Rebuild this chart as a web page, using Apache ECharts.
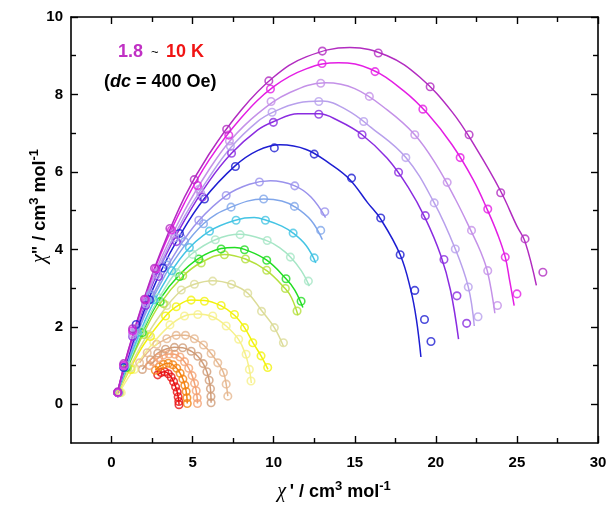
<!DOCTYPE html>
<html><head><meta charset="utf-8">
<script src="https://cdn.jsdelivr.net/npm/echarts@6/dist/echarts.min.js"></script>
<style>html,body{margin:0;padding:0;background:#fff}#c{width:609px;height:511px}</style>
</head><body><div id="c"></div>
<script>
// ---- axis ticks ----
const xTicks = [0, 5, 10, 15, 20, 25, 30];
const xMinorTicks = [2.5, 7.5, 12.5, 17.5, 22.5, 27.5];
const yTicks = [0, 2, 4, 6, 8, 10];
const yMinorTicks = [1, 3, 5, 7, 9];

// ---- series colours (outermost -> innermost) ----
const seriesColors = ['#b22cc0','#e41ee4','#c491e8','#b8a0ec','#8a2ce0','#1e1ed2','#9a92ec','#80a6ea','#44c4e4','#a6e6c6','#22dd22','#b4e03c','#dcdc98','#f2f20c','#f6f08a','#e6b890','#d09c78','#f4a274','#f48210','#e81010'];

// ---- measured points [chi', chi''] ----
const ptsA = [[0.38,0.32],[0.75,1.05],[1.3,1.95],[2.03,2.71],[2.65,3.51],[3.6,4.54],[5.1,5.8],[7.1,7.1],[9.7,8.35],[13.0,9.12],[16.45,9.07],[19.65,8.2],[22.05,6.96],[24.0,5.46],[25.5,4.27],[26.6,3.41]];
const ptsB = [[0.38,0.3],[0.75,1.0],[1.3,1.9],[2.1,2.7],[2.75,3.5],[3.7,4.5],[5.3,5.65],[7.23,6.95],[9.8,8.14],[12.98,8.8],[16.25,8.59],[19.2,7.62],[21.5,6.37],[23.2,5.04],[24.28,3.8],[25.0,2.85]];
const ptsC = [[0.38,0.3],[0.75,1.0],[1.3,1.85],[2.1,2.65],[2.8,3.4],[3.8,4.4],[5.4,5.55],[7.27,6.8],[9.84,7.82],[12.9,8.29],[15.9,7.95],[18.7,6.96],[20.7,5.73],[22.2,4.49],[23.2,3.45],[23.8,2.55]];
const ptsD = [[0.38,0.3],[0.75,1.0],[1.3,1.8],[2.1,2.6],[2.8,3.35],[3.9,4.3],[5.5,5.45],[7.33,6.66],[9.9,7.54],[12.78,7.82],[15.55,7.3],[18.15,6.37],[19.9,5.2],[21.2,4.01],[22.0,3.03],[22.6,2.26]];
const ptsE = [[0.38,0.3],[0.75,0.98],[1.3,1.75],[2.1,2.55],[2.9,3.3],[4.0,4.2],[5.6,5.35],[7.4,6.48],[9.98,7.28],[12.78,7.49],[15.45,6.96],[17.7,5.99],[19.35,4.87],[20.5,3.74],[21.3,2.8],[21.9,2.09]];
const ptsF = [[0.38,0.3],[0.75,0.95],[1.52,2.06],[2.34,2.7],[3.16,3.52],[4.19,4.41],[5.73,5.3],[7.64,6.14],[10.04,6.62],[12.5,6.46],[14.8,5.84],[16.6,4.81],[17.8,3.86],[18.7,2.94],[19.3,2.19],[19.7,1.62]];
const ptsG = [[0.4,0.3],[0.8,1.0],[1.5,1.95],[2.4,2.85],[3.4,3.7],[4.3,4.3],[5.38,4.75],[7.07,5.39],[9.12,5.74],[11.3,5.64],[13.15,4.97]];
const ptsH = [[0.4,0.3],[0.8,1.0],[1.5,1.9],[2.4,2.8],[3.4,3.6],[4.5,4.2],[5.67,4.66],[7.37,5.09],[9.38,5.3],[11.28,5.11],[12.9,4.49]];
const ptsI = [[0.4,0.3],[0.8,0.95],[1.6,1.85],[2.6,2.7],[3.7,3.45],[4.8,4.05],[6.04,4.47],[7.68,4.75],[9.49,4.75],[11.2,4.42],[12.5,3.78]];
const ptsJ = [[0.4,0.3],[0.9,1.0],[1.8,1.9],[2.9,2.75],[4.0,3.4],[5.0,3.87],[6.4,4.25],[7.93,4.38],[9.6,4.23],[11.03,3.8],[12.14,3.18]];
const ptsK = [[0.4,0.3],[0.9,0.95],[1.9,1.85],[3.0,2.65],[4.2,3.3],[5.38,3.75],[6.76,4.01],[8.2,3.99],[9.57,3.72],[10.76,3.24],[11.69,2.66]];
const ptsL = [[0.4,0.3],[1.0,0.95],[2.0,1.8],[3.2,2.6],[4.39,3.32],[5.53,3.65],[6.96,3.86],[8.26,3.75],[9.57,3.46],[10.72,2.99],[11.44,2.41]];
const ptsM = [[0.5,0.3],[1.2,0.95],[2.3,1.8],[3.4,2.55],[4.3,2.95],[5.11,3.1],[6.24,3.18],[7.4,3.1],[8.4,2.87],[9.25,2.4],[10.04,1.98],[10.6,1.59]];
const ptsN = [[0.5,0.3],[1.2,0.9],[2.4,1.75],[3.33,2.28],[3.99,2.52],[4.91,2.69],[5.73,2.66],[6.76,2.55],[7.58,2.32],[8.2,1.98],[8.71,1.59],[9.22,1.25],[9.63,0.95]];
const ptsO = [[0.6,0.3],[1.4,0.9],[2.6,1.6],[3.6,2.05],[4.5,2.28],[5.32,2.32],[6.24,2.28],[7.07,2.02],[7.84,1.68],[8.3,1.29],[8.5,0.9],[8.6,0.6]];
const ptsP = [[1.73,1.07],[2.2,1.33],[2.79,1.55],[3.41,1.69],[3.99,1.78],[4.56,1.78],[5.11,1.69],[5.67,1.53],[6.14,1.31],[6.55,1.07],[6.9,0.82],[7.07,0.52],[7.17,0.21]];
const ptsQ = [[1.9,0.9],[2.4,1.15],[2.85,1.32],[3.33,1.42],[3.88,1.47],[4.39,1.46],[4.91,1.37],[5.32,1.24],[5.65,1.05],[5.88,0.84],[6.02,0.62],[6.1,0.4],[6.13,0.2],[6.14,0.04]];
const ptsR = [[2.35,1.0],[2.6,1.1],[2.9,1.2],[3.2,1.27],[3.55,1.3],[3.9,1.29],[4.22,1.22],[4.5,1.1],[4.76,0.93],[4.97,0.74],[5.12,0.54],[5.22,0.35],[5.28,0.17],[5.3,0.02]];
const ptsS = [[2.7,0.88],[2.95,0.97],[3.2,1.03],[3.5,1.06],[3.78,1.02],[4.02,0.93],[4.23,0.8],[4.4,0.65],[4.52,0.49],[4.6,0.33],[4.65,0.17],[4.67,0.02]];
const ptsT = [[2.85,0.76],[3.05,0.82],[3.28,0.84],[3.5,0.79],[3.68,0.7],[3.83,0.58],[3.95,0.45],[4.05,0.32],[4.11,0.19],[4.15,0.07],[4.16,-0.01]];

// ---- fitted curves [chi', chi''] ----
const fitA = [[0.35,0.28],[1,1.35],[2,2.72],[3,3.9],[4.5,5.35],[6,6.45],[8,7.6],[10,8.45],[12,8.97],[14.7,9.21],[17,9.0],[19,8.45],[21,7.55],[22.5,6.6],[24,5.5],[25,4.6],[25.5,4.2],[26.2,3.07]];
const fitB = [[0.35,0.28],[1,1.33],[2,2.68],[3,3.85],[4.5,5.2],[6,6.3],[8,7.4],[10,8.2],[12,8.66],[14,8.82],[16,8.65],[18,8.1],[19.5,7.5],[21,6.7],[22.3,5.8],[23.2,5.0],[23.8,4.4],[24.28,3.8],[24.55,3.2],[24.83,2.55]];
const fitC = [[0.35,0.28],[1,1.3],[2,2.62],[3,3.72],[4.5,5.0],[6,6.05],[7.3,6.8],[9,7.5],[11,8.05],[13.2,8.3],[15,8.15],[17,7.6],[18.7,6.96],[20,6.2],[21.2,5.3],[22.2,4.45],[22.75,3.95],[23.2,3.4],[23.64,2.35]];
const fitD = [[0.35,0.28],[1,1.28],[2,2.58],[3,3.62],[4.5,4.85],[6,5.85],[7.33,6.62],[9,7.3],[10,7.55],[11.5,7.78],[13,7.83],[14.5,7.6],[16,7.15],[18.15,6.37],[19.9,5.2],[21.2,4.01],[22.0,3.03],[22.37,2.02]];
const fitE = [[0.35,0.28],[1,1.25],[2,2.52],[3,3.55],[4.5,4.75],[6,5.75],[7.4,6.48],[9,7.08],[10,7.3],[11.5,7.5],[12.8,7.5],[14,7.32],[15.45,6.96],[17,6.35],[18.3,5.6],[19.35,4.8],[20.3,3.85],[20.9,2.95],[21.4,1.68]];
const fitF = [[0.35,0.28],[1,1.2],[2,2.4],[3,3.4],[4.2,4.35],[5.7,5.3],[7.6,6.15],[9,6.55],[10.4,6.7],[12,6.58],[13.5,6.2],[14.7,5.8],[15.8,5.2],[16.6,4.78],[17.8,3.86],[18.46,2.94],[18.8,2.19],[19.08,1.22]];
const fitG = [[0.35,0.28],[1,1.15],[2,2.3],[3,3.2],[4,3.95],[5.4,4.75],[7.07,5.39],[8.5,5.68],[9.8,5.77],[11.3,5.64],[12.3,5.35],[13.2,4.82]];
const fitH = [[0.35,0.28],[1,1.12],[2,2.25],[3,3.1],[4,3.8],[5.67,4.66],[7.37,5.09],[9.4,5.3],[10.5,5.25],[11.3,5.1],[12.3,4.75],[13.0,4.25]];
const fitI = [[0.35,0.28],[1,1.05],[2,2.1],[3,2.95],[4.5,3.9],[6.04,4.47],[7.7,4.76],[8.8,4.82],[9.5,4.76],[10.5,4.6],[11.2,4.42],[12.0,4.1],[12.6,3.65]];
const fitJ = [[0.35,0.28],[1,1.0],[2,2.0],[3,2.8],[4.2,3.55],[5.0,3.9],[6.4,4.25],[7.9,4.39],[9.6,4.22],[10.4,4.03],[11.03,3.8],[11.7,3.45],[12.2,3.05]];
const fitK = [[0.35,0.28],[1,0.98],[2,1.95],[3,2.72],[4.2,3.35],[5.38,3.77],[6.76,4.02],[7.6,4.05],[8.2,4.0],[9.57,3.72],[10.76,3.24],[11.3,2.95],[11.8,2.5]];
const fitL = [[0.35,0.28],[1,0.95],[2,1.85],[3,2.6],[4.39,3.3],[5.53,3.66],[6.96,3.87],[8.26,3.75],[9.57,3.45],[10.72,2.98],[11.1,2.75],[11.5,2.3]];
const fitM = [[0.4,0.28],[1,0.85],[2,1.65],[3,2.3],[4.2,2.9],[5.11,3.1],[6.24,3.19],[7.4,3.1],[8.4,2.87],[9.25,2.42],[10.04,1.98],[10.6,1.5]];
const fitN = [[0.4,0.28],[1,0.8],[2,1.55],[3.33,2.28],[3.99,2.52],[4.91,2.69],[5.73,2.68],[6.76,2.54],[7.58,2.3],[8.2,1.98],[8.71,1.6],[9.22,1.25],[9.65,0.9]];
const fitO = [[0.45,0.28],[1.2,0.8],[2.3,1.45],[3.5,2.0],[4.5,2.28],[5.32,2.33],[6.24,2.26],[7.07,2.02],[7.84,1.67],[8.25,1.3],[8.5,0.9],[8.62,0.55]];

const pointSets = [ptsA,ptsB,ptsC,ptsD,ptsE,ptsF,ptsG,ptsH,ptsI,ptsJ,ptsK,ptsL,ptsM,ptsN,ptsO,ptsP,ptsQ,ptsR,ptsS,ptsT];
const fitSets = [fitA,fitB,fitC,fitD,fitE,fitF,fitG,fitH,fitI,fitJ,fitK,fitL,fitM,fitN,fitO,ptsP,ptsQ,ptsR,ptsS,ptsT];

const FONT = '"Liberation Sans", Arial, sans-serif';
const chart = echarts.init(document.getElementById('c'), null, {renderer:'canvas'});

const series = [];
for (let i = pointSets.length - 1; i >= 0; i--) {
  const col = seriesColors[i];
  series.push({
    type: 'line', data: fitSets[i], smooth: 0.4,
    showSymbol: false, silent: true, z: 2,
    lineStyle: {color: col, width: 1.5}
  });
  series.push({
    type: 'scatter', data: pointSets[i], symbol: 'circle', symbolSize: 7.5,
    silent: true, z: 3,
    itemStyle: {color: 'rgba(255,255,255,0)', borderColor: col, borderWidth: 1.6}
  });
}

const axisLineStyle = {show: true, onZero: false, lineStyle: {color: '#000', width: 1.6}};
const noLine = {show: false, onZero: false};
const baseX = {type:'value', min:-2.5, max:30, gridIndex:0, splitLine:{show:false}};
const baseY = {type:'value', min:-1, max:10, gridIndex:0, splitLine:{show:false}};
const tickStyle = {color:'#000', width:1.4};

const option = {
  animation: false,
  backgroundColor: '#fff',
  grid: {left: 71, right: 11, top: 17, bottom: 68, containLabel: false, outerBoundsMode: 'none'},
  xAxis: [
    Object.assign({}, baseX, {position:'bottom', axisLine: axisLineStyle,
      axisTick:{show:true, inside:true, length:7, customValues:xTicks, lineStyle:tickStyle},
      axisLabel:{show:true, customValues:xTicks, margin:12, color:'#000', fontSize:15, fontWeight:'bold', fontFamily:FONT}}),
    Object.assign({}, baseX, {position:'bottom', axisLine: noLine,
      axisTick:{show:true, inside:true, length:5, customValues:xMinorTicks, lineStyle:tickStyle},
      axisLabel:{show:false}}),
    Object.assign({}, baseX, {position:'top', axisLine: axisLineStyle,
      axisTick:{show:true, inside:true, length:7, customValues:xTicks, lineStyle:tickStyle},
      axisLabel:{show:false}}),
    Object.assign({}, baseX, {position:'top', axisLine: noLine,
      axisTick:{show:true, inside:true, length:5, customValues:xMinorTicks, lineStyle:tickStyle},
      axisLabel:{show:false}})
  ],
  yAxis: [
    Object.assign({}, baseY, {position:'left', axisLine: axisLineStyle,
      axisTick:{show:true, inside:true, length:7, customValues:yTicks, lineStyle:tickStyle},
      axisLabel:{show:true, customValues:yTicks, margin:8, color:'#000', fontSize:15, fontWeight:'bold', fontFamily:FONT}}),
    Object.assign({}, baseY, {position:'left', axisLine: noLine,
      axisTick:{show:true, inside:true, length:5, customValues:yMinorTicks, lineStyle:tickStyle},
      axisLabel:{show:false}}),
    Object.assign({}, baseY, {position:'right', axisLine: axisLineStyle,
      axisTick:{show:true, inside:true, length:7, customValues:yTicks, lineStyle:tickStyle},
      axisLabel:{show:false}}),
    Object.assign({}, baseY, {position:'right', axisLine: noLine,
      axisTick:{show:true, inside:true, length:5, customValues:yMinorTicks, lineStyle:tickStyle},
      axisLabel:{show:false}})
  ],
  series: series,
  graphic: [
    {type:'text', left:118, top:43, style:{text:'1.8', fill:'#c030c4', font:'bold 18px ' + FONT}},
    {type:'text', left:151, top:46, style:{text:'~', fill:'#000', font:'13px ' + FONT}},
    {type:'text', left:166, top:43, style:{text:'10 K', fill:'#f01414', font:'bold 18px ' + FONT}},
    {type:'text', left:104, top:73, style:{
      text:'{n|(}{i|dc}{n| = 400 Oe)}',
      rich:{n:{fontSize:18, fontWeight:'bold', fontFamily:FONT, fill:'#000'},
            i:{fontSize:18, fontWeight:'bold', fontStyle:'italic', fontFamily:FONT, fill:'#000'}}}},
    {type:'text', x:334, y:492, style:{
      text:'{c|χ}{b|\u2009\' / cm}{s|3}{b| mol}{s|-1}',
      align:'center', verticalAlign:'middle',
      rich:{c:{fontSize:20, fontStyle:'italic', fontFamily:'"Liberation Serif", serif', fill:'#000', lineHeight:24},
            b:{fontSize:18, fontWeight:'bold', fontFamily:FONT, fill:'#000', lineHeight:24},
            s:{fontSize:13, fontWeight:'bold', fontFamily:FONT, fill:'#000', verticalAlign:'top', lineHeight:24, padding:[0,0,12,0]}}}},
    {type:'text', x:40, y:206, rotation:Math.PI/2, style:{
      text:'{c|χ}{b|" / cm}{s|3}{b| mol}{s|-1}',
      align:'center', verticalAlign:'middle',
      rich:{c:{fontSize:20, fontStyle:'italic', fontFamily:'"Liberation Serif", serif', fill:'#000', lineHeight:24},
            b:{fontSize:18, fontWeight:'bold', fontFamily:FONT, fill:'#000', lineHeight:24},
            s:{fontSize:13, fontWeight:'bold', fontFamily:FONT, fill:'#000', verticalAlign:'top', lineHeight:24, padding:[0,0,12,0]}}}}
  ]
};
chart.setOption(option);
</script>
</body></html>
